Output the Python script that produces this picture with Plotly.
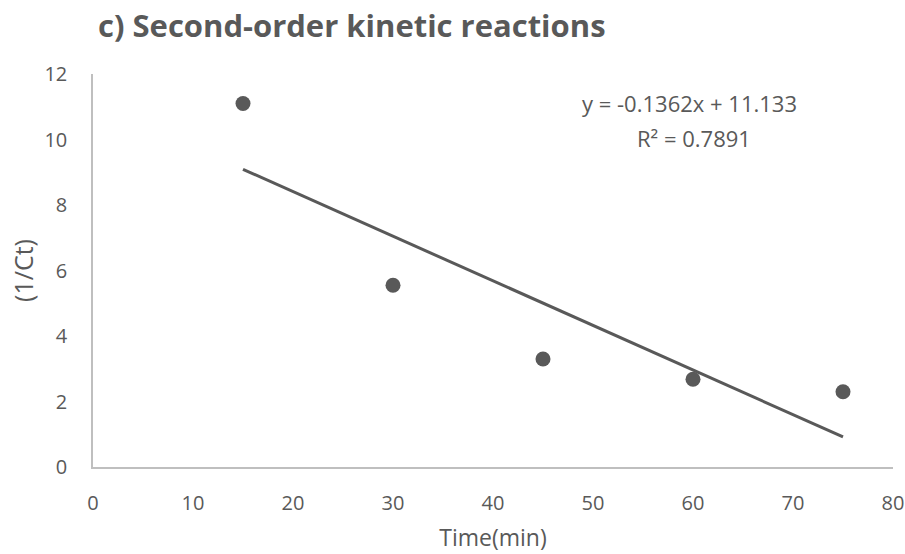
import plotly.graph_objects as go

time_min = [15, 30, 45, 60, 75]
inv_ct = [11.1, 5.55, 3.3, 2.68, 2.3]
slope = -0.1362
intercept = 11.133
trend_x = [15, 75]
trend_y = [slope * x + intercept for x in trend_x]
x_ticks = [0, 10, 20, 30, 40, 50, 60, 70, 80]
y_ticks = [0, 2, 4, 6, 8, 10, 12]

grey = "#595959"
font_family = "Open Sans, Noto Sans, sans-serif"

fig = go.Figure()
fig.add_trace(go.Scatter(x=trend_x, y=trend_y, mode="lines",
                         line=dict(color=grey, width=3), showlegend=False, hoverinfo="skip"))
fig.add_trace(go.Scatter(x=time_min, y=inv_ct, mode="markers",
                         marker=dict(color=grey, size=15), showlegend=False))

L, R, T, B = 93, 12, 74, 87
W, H = 905, 554
pw, ph = W - L - R, H - T - B

fig.update_layout(
    template="none",
    width=W, height=H,
    margin=dict(l=L, r=R, t=T, b=B, autoexpand=False),
    paper_bgcolor="white", plot_bgcolor="white",
    font=dict(family=font_family, color=grey, size=20),
    title=dict(text="<b>c) Second-order kinetic reactions</b>", x=98 / W, xanchor="left",
               y=1 - 26 / H, yanchor="middle", font=dict(size=31, color=grey)),
    xaxis=dict(range=[0, 80], tickvals=x_ticks, showgrid=False, automargin=False,
               zeroline=False, showline=True, linecolor="#bfbfbf", linewidth=1.5, ticks="",
               ticklabelstandoff=17, tickfont=dict(size=20, color=grey),
               title=dict(text="Time(min)", font=dict(size=23, color=grey), standoff=15)),
    yaxis=dict(range=[0, 12], tickvals=y_ticks, showgrid=False, automargin=False,
               zeroline=False, showline=True, linecolor="#bfbfbf", linewidth=1.5, ticks="",
               ticklabelstandoff=20, tickfont=dict(size=20, color=grey),
               title=dict(text="(1/Ct)", font=dict(size=25, color=grey), standoff=4)),
)
fig.add_annotation(x=(689 - L) / pw, y=(H - B - 103) / ph, xref="paper", yref="paper",
                   showarrow=False, text="y = -0.1362x + 11.133",
                   xanchor="center", yanchor="middle", font=dict(size=22, color=grey))
fig.add_annotation(x=(694 - L) / pw, y=(H - B - 138) / ph, xref="paper", yref="paper",
                   showarrow=False, text="R² = 0.7891",
                   xanchor="center", yanchor="middle", font=dict(size=22, color=grey))
fig.write_html("out.html")
